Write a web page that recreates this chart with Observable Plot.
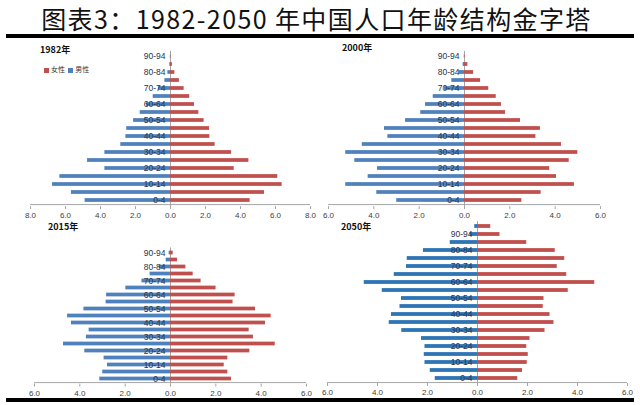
<!DOCTYPE html>
<html><head><meta charset="utf-8">
<script src="https://cdn.jsdelivr.net/npm/d3@7"></script>
<script src="https://cdn.jsdelivr.net/npm/@observablehq/plot@0.6"></script>
<style>
body{margin:0;background:#fff;}
#wrap{position:relative;width:640px;height:405px;overflow:hidden;background:#fff;font-family:"Noto Sans CJK SC",sans-serif;}
.abs{position:absolute;white-space:nowrap;}
.ptitle{font-size:9px;font-weight:bold;color:#111;line-height:12px;}
.sw{display:inline-block;width:5px;height:5px;margin-right:2px;vertical-align:middle;}
h1{margin:0;font-weight:normal;}
</style></head><body>
<div id="wrap">
  <h1 class="abs" style="left:0;top:0;width:633px;text-align:center;line-height:normal;font-size:25px;letter-spacing:1.4px;color:#111;">图表3：1982-2050 年中国人口年龄结构金字塔</h1>
  <div class="abs" style="left:6px;top:34px;width:628px;height:4px;background:#000;"></div>
  <div class="abs" style="left:6px;top:398px;width:628px;height:4px;background:#000;"></div>
  <div class="abs ptitle" style="left:40px;top:44px;">1982年</div>
  <div class="abs ptitle" style="left:342px;top:42px;">2000年</div>
  <div class="abs ptitle" style="left:48px;top:221px;">2015年</div>
  <div class="abs ptitle" style="left:341px;top:221px;">2050年</div>
  <div class="abs" id="legend" style="left:44px;top:65px;font-size:7px;line-height:9px;color:#333;"></div>
</div>
<script>
// ---- data ----
const ages = ["0-4","5-9","10-14","15-19","20-24","25-29","30-34","35-39","40-44","45-49","50-54","55-59","60-64","65-69","70-74","75-79","80-84","85-89","90-94"];
const ages2050 = ["0-4","5-9","10-14","15-19","20-24","25-29","30-34","35-39","40-44","45-49","50-54","55-59","60-64","65-69","70-74","75-79","80-84","85-89","90-94","95-99"];
const seriesNames = ["女性", "男性"];

const m1982 = [4.88,5.66,6.74,6.32,3.75,4.74,3.75,2.84,2.55,2.50,2.11,1.73,1.37,0.99,0.69,0.32,0.15,0.04,0.01];
const f1982 = [4.55,5.37,6.38,6.13,3.64,4.48,3.49,2.55,2.25,2.23,1.92,1.62,1.37,1.10,0.78,0.51,0.25,0.11,0.02];

const m2000 = [2.99,3.87,5.24,4.25,3.84,4.84,5.24,4.51,3.38,3.53,2.60,1.93,1.72,1.38,0.88,0.56,0.24,0.06,0.01];
const f2000 = [2.53,3.38,4.85,4.06,3.76,4.62,5.00,4.28,3.15,3.35,2.47,1.81,1.63,1.40,1.07,0.71,0.40,0.15,0.02];

const m2015 = [3.12,2.99,2.78,2.93,3.78,4.72,3.71,3.59,4.37,4.54,3.82,2.84,2.82,1.97,1.26,0.90,0.50,0.19,0.06];
const f2015 = [2.69,2.53,2.37,2.53,3.50,4.62,3.66,3.47,4.19,4.44,3.75,2.76,2.85,2.01,1.35,1.00,0.68,0.31,0.12];

const m2050 = [1.69,1.89,2.10,2.13,2.10,2.24,3.03,3.53,3.44,3.10,3.04,3.81,4.53,3.33,2.84,2.81,2.16,1.09,0.30,0.11];
const f2050 = [1.61,1.80,1.99,2.03,1.97,2.10,2.70,3.06,2.90,2.63,2.66,3.63,4.69,3.57,3.19,3.49,3.11,1.97,0.90,0.53];

const ticks8 = [-8,-6,-4,-2,0,2,4,6,8];
const ticks6 = [-6,-4,-2,0,2,4,6];

const femColor = "#C0504D";
const maleColor = "#4F81BD";
const maleColor2050 = "#2E75B6";

// ---- legend ----
document.getElementById("legend").innerHTML =
  `<span class="sw" style="background:${femColor}"></span>${seriesNames[0]}&nbsp;&nbsp;` +
  `<span class="sw" style="background:${maleColor}"></span>${seriesNames[1]}`;

function panel(o) {
  const data = o.cats.map((a, i) => ({age: a, m: o.male[i], f: o.female[i]}));
  const step = (o.height - o.mt - o.mb) / o.cats.length;
  const inset = Math.max(0, (step - 3.9) / 2);
  const fmt = d => Math.abs(d).toFixed(1);
  const p = Plot.plot({
    width: o.width, height: o.height,
    marginLeft: o.ml, marginRight: o.mr, marginTop: o.mt, marginBottom: o.mb,
    style: {background: "transparent", overflow: "visible", fontFamily: "'Liberation Sans', Arial, sans-serif"},
    x: {domain: o.dom, label: null, axis: null},
    y: {domain: o.cats, reverse: true, padding: 0, axis: null, label: null},
    marks: [
      Plot.ruleX([0], {stroke: "#A6A6A6"}),
      Plot.barX(data, {y: "age", x: d => -d.m, fill: o.maleColor, insetTop: inset, insetBottom: inset}),
      Plot.barX(data, {y: "age", x: "f", fill: femColor, insetTop: inset, insetBottom: inset}),
      Plot.ruleY([o.cats[0]], {y: d => d, dy: step / 2, x1: o.dom[0], x2: o.dom[1], stroke: "#A6A6A6"}),
      Plot.axisX({ticks: o.ticks, tickFormat: fmt, tickSize: 3, tickPadding: 3, fontSize: 8, stroke: "#A6A6A6", fill: "#404040", label: null}),
      Plot.text(o.cats.filter((d, i) => i % 2 === 0), {x: 0, y: d => d, text: d => d, textAnchor: "end", dx: -5, fontSize: 8.5, fill: "#1F3350"})
    ]
  });
  p.style.position = "absolute";
  p.style.left = o.left + "px";
  p.style.top = o.top + "px";
  document.getElementById("wrap").appendChild(p);
}

panel({left: 0, top: 40, width: 320, height: 182, ml: 30, mr: 10, mt: 10.9, mb: 15.9,
  dom: [-8, 8], ticks: ticks8, cats: ages, male: m1982, female: f1982, maleColor});
panel({left: 320, top: 40, width: 320, height: 182, ml: 8, mr: 40, mt: 10.9, mb: 15.9,
  dom: [-6, 6], ticks: ticks6, cats: ages, male: m2000, female: f2000, maleColor});
panel({left: 0, top: 222, width: 320, height: 178, ml: 34, mr: 14, mt: 25.4, mb: 16.4,
  dom: [-6, 6], ticks: ticks6, cats: ages, male: m2015, female: f2015, maleColor});
panel({left: 320, top: 218, width: 320, height: 182, ml: 7, mr: 13, mt: 3, mb: 17,
  dom: [-6, 6], ticks: ticks6, cats: ages2050, male: m2050, female: f2050, maleColor: maleColor2050});
</script>
</body></html>
